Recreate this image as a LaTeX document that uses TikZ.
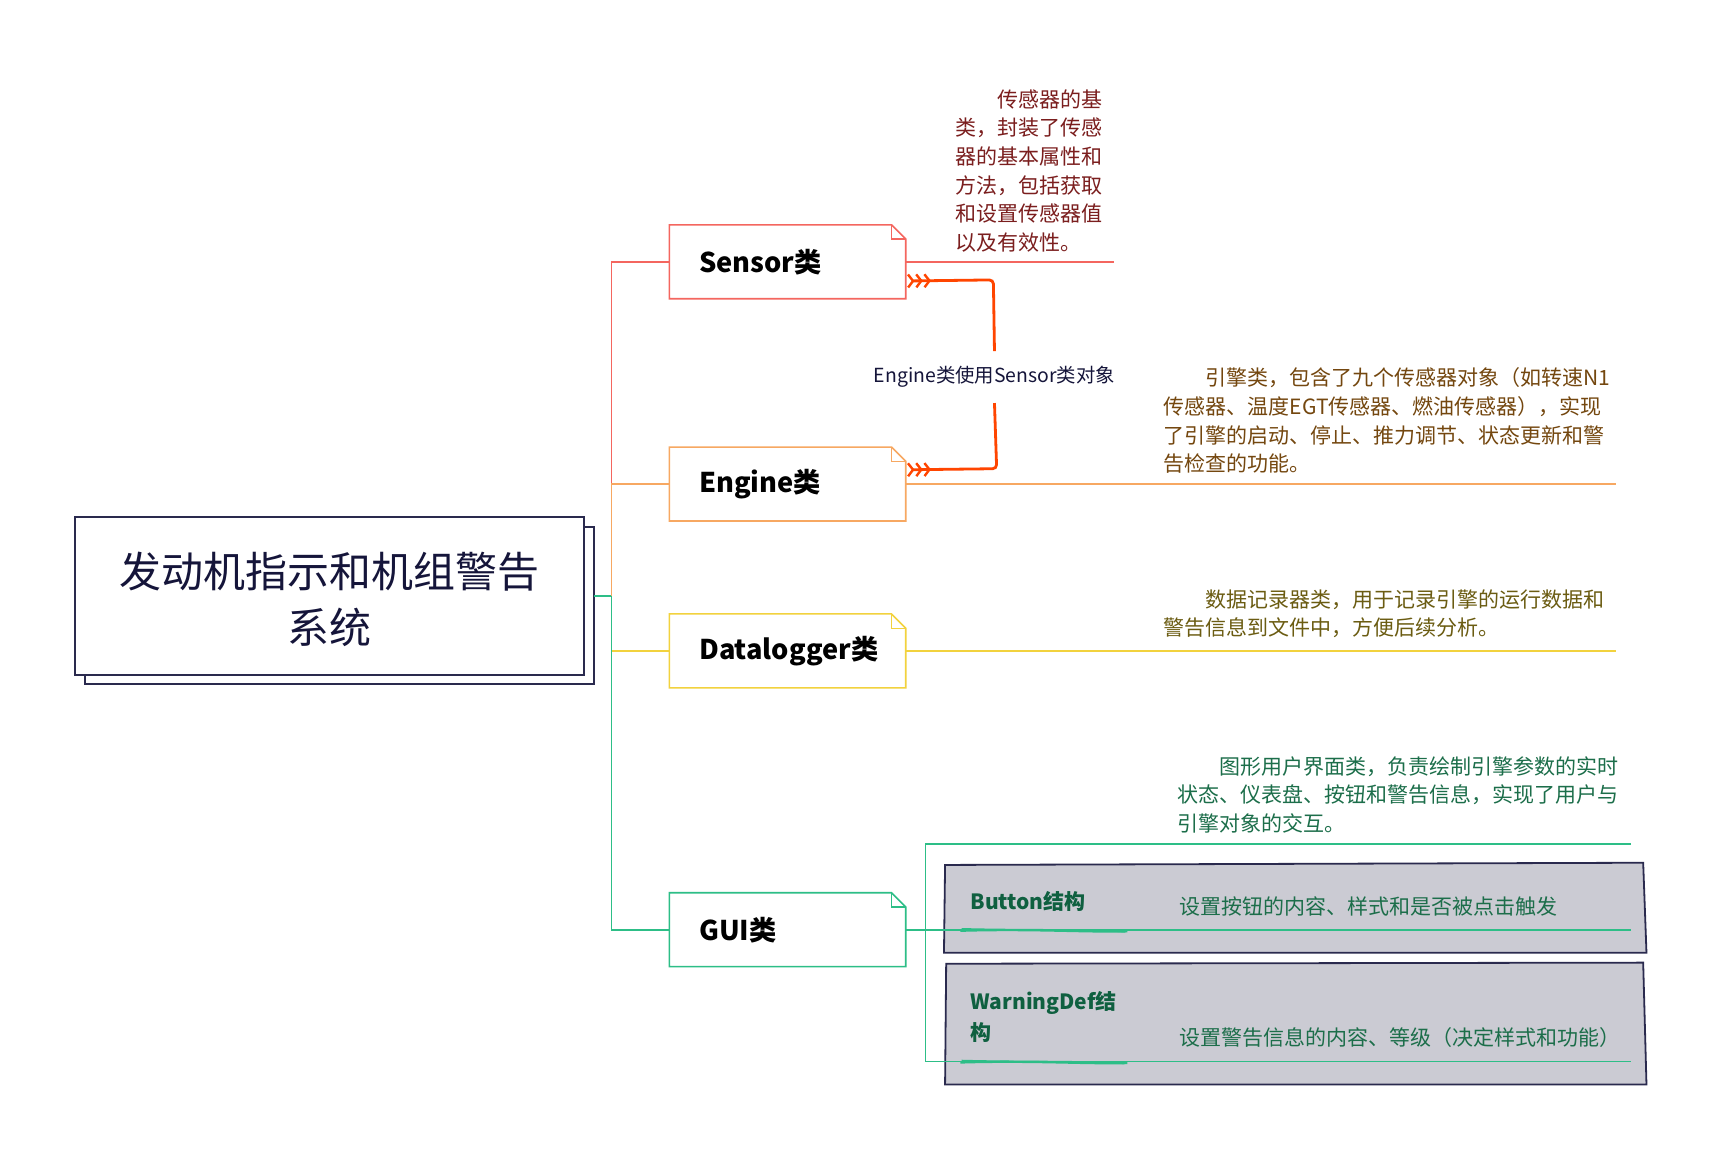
\documentclass[tikz,border=0pt]{standalone}
\usepackage{fontspec}
\setmainfont{Noto Sans CJK SC}
\usetikzlibrary{calc,arrows.meta}
\definecolor{cRed}{HTML}{F4665F}
\definecolor{cOrange}{HTML}{F7A862}
\definecolor{cYellow}{HTML}{F2D23E}
\definecolor{cGreen}{HTML}{2DBE87}
\definecolor{tRed}{HTML}{7B1E1E}
\definecolor{tOrange}{HTML}{74470F}
\definecolor{tYellow}{HTML}{6B5C12}
\definecolor{tGreen}{HTML}{1C6E4A}
\definecolor{tGreenB}{HTML}{0F6040}
\definecolor{navy}{HTML}{2A2A4E}
\definecolor{tNavy}{HTML}{15153A}
\definecolor{grayfill}{HTML}{CBCBD3}
\definecolor{relc}{HTML}{FF4500}
\tikzset{
  branch/.style={line width=1.6pt},
  cbox/.style={rectangle, minimum width={215*1.0977pt}, minimum height={67*1.0977pt}, inner sep=0pt},
  boxlabel/.style={font=\fontsize{27.2}{32}\selectfont\bfseries, text=black, inner sep=0pt, anchor=west},
  desc/.style={font=\fontsize{21}{28.6}\selectfont, inner sep=0pt, anchor=north west, align=left},
  relline/.style={draw=relc, line width=2.8pt, rounded corners=4pt},
  chev/.tip={Straight Barb[reversed,length=5pt,width=13pt,line width=2.4pt,sep=0.5pt]Straight Barb[reversed,length=5pt,width=13pt,line width=2.4pt,sep=0.5pt]Straight Barb[reversed,length=5pt,width=13pt,line width=2.4pt]},
}
\begin{document}
\begin{tikzpicture}[x=1.0977pt,y=-1.0977pt]
\useasboundingbox[fill=white] (0,0) rectangle (1567,1055.8);

% root
\draw[navy, line width=2pt, fill=white] (77,480) rectangle (541,623);
\node[rectangle, draw=navy, line width=2pt, fill=white, minimum width={464*1.0977pt}, minimum height={144*1.0977pt}, align=center, text=tNavy, font=\fontsize{42}{56}\selectfont, inner sep=0pt] (root) at (300,543) {\rule{0pt}{43pt}发动机指示和机组警告\\系统};
\coordinate (rootout) at (541,543);
\coordinate (j) at (557,543);

% class boxes
\node[cbox] (sensor) at (717.5,238.5) {};
\node[cbox] (engine) at (717.5,441) {};
\node[cbox] (datalogger) at (717.5,593) {};
\node[cbox] (gui) at (717.5,847) {};

% branches
\draw[branch, cRed] (j) |- (sensor.west);
\draw[branch, cOrange] (j) |- (engine.west);
\draw[branch, cYellow] (j) |- (datalogger.west);
\draw[branch, cGreen] (j) |- (gui.west);
\draw[branch, cGreen] (rootout) -- (j);

% folded-corner outlines
\foreach \n/\c in {sensor/cRed, engine/cOrange, datalogger/cYellow, gui/cGreen}{
  \draw[\c, line width=1.6pt, line join=miter]
    (\n.south west) -- (\n.north west) -- ($(\n.north east)+(-13,0)$) -- ($(\n.north east)+(0,13)$) -- (\n.south east) -- cycle;
  \draw[\c, line width=1.2pt] ($(\n.north east)+(-13,0)$) -- ($(\n.north east)+(-13,13)$) -- ($(\n.north east)+(0,13)$);
}
\node[boxlabel] (sensorT) at ($(sensor.west)+(27,0)$) {Sensor类};
\node[boxlabel] (engineT) at ($(engine.west)+(27,0)$) {Engine类};
\node[boxlabel] (dataloggerT) at ($(datalogger.west)+(27,0)$) {Datalogger类};
\node[boxlabel] (guiT) at ($(gui.west)+(27,0)$) {GUI类};

% underlines / descriptions
\coordinate (sensorEnd) at (1015,238.5);
\coordinate (engineEnd) at (1472,441);
\coordinate (dataloggerEnd) at (1472,593);
\draw[branch, cRed] (sensor.east) -- (sensorEnd);
\draw[branch, cOrange] (engine.east) -- (engineEnd);
\draw[branch, cYellow] (datalogger.east) -- (dataloggerEnd);

\node[desc, text=tRed] (sensorD) at (870,81.5) {\hspace{2em}传感器的基\\类，封装了传感\\器的基本属性和\\方法，包括获取\\和设置传感器值\\以及有效性。};
\node[desc, text=tOrange] (engineD) at (1060,335) {\hspace{2em}引擎类，包含了九个传感器对象（如转速N1\\传感器、温度EGT传感器、燃油传感器），实现\\了引擎的启动、停止、推力调节、状态更新和警\\告检查的功能。};
\node[desc, text=tYellow] (dataloggerD) at (1060,537) {\hspace{2em}数据记录器类，用于记录引擎的运行数据和\\警告信息到文件中，方便后续分析。};
\node[desc, text=tGreen] (guiD) at (1073,689) {\hspace{2em}图形用户界面类，负责绘制引擎参数的实时\\状态、仪表盘、按钮和警告信息，实现了用户与\\引擎对象的交互。};

% GUI sub structures
\draw[navy, line width=1.8pt, fill=grayfill] (861,788) -- (1497,786) -- (1500,868) -- (860,868) -- cycle;
\draw[navy, line width=1.8pt, fill=grayfill] (862,878) -- (1497,877) -- (1500,988) -- (861,988) -- cycle;
\coordinate (gj) at (843,847);
\coordinate (gtop) at (843,769);
\coordinate (gbot) at (843,967);
\coordinate (gtopEnd) at (1486,769);
\coordinate (gmidEnd) at (1486,847);
\coordinate (gbotEnd) at (1486,967);
\draw[branch, cGreen] (gui.east) -- (gj);
\draw[branch, cGreen] (gtop) -- (gbot);
\draw[branch, cGreen] (gtop) -- (gtopEnd);
\draw[branch, cGreen] (gj) -- (gmidEnd);
\draw[branch, cGreen] (gbot) -- (gbotEnd);
\draw[cGreen, line width=2.2pt] (875,848) .. controls (940,846) and (990,849.5) .. (1027,848.5);
\draw[cGreen, line width=1.2pt] (876,846) .. controls (930,847.5) and (985,846) .. (1025,849);
\draw[cGreen, line width=2.2pt] (875,968) .. controls (940,966) and (990,969.5) .. (1027,968.5);
\draw[cGreen, line width=1.2pt] (876,966) .. controls (930,967.5) and (985,966) .. (1025,969);

\node[font=\fontsize{21}{31.5}\selectfont\bfseries, text=tGreenB, inner sep=0pt, anchor=west] (buttonT) at (884,821) {Button结构};
\node[font=\fontsize{21}{31.5}\selectfont\bfseries, text=tGreenB, inner sep=0pt, anchor=north west, align=left] (warnT) at (884,903) {WarningDef结\\构};
\node[font=\fontsize{21}{28.6}\selectfont, text=tGreen, inner sep=0pt, anchor=west] (buttonD) at (1074,826) {设置按钮的内容、样式和是否被点击触发};
\node[font=\fontsize{21}{28.6}\selectfont, text=tGreen, inner sep=0pt, anchor=west] (warnD) at (1074,945) {设置警告信息的内容、等级（决定样式和功能）};

% relation
\node[font=\fontsize{19.4}{24}\selectfont, text=tNavy, inner xsep=0pt, inner ysep=0pt, minimum height={47*1.0977pt}] (rel) at (906,343.5) {Engine类使用Sensor类对象};
\coordinate (s1) at ($(sensor.east)+(1,17.5)$);
\coordinate (e1) at ($(engine.east)+(1,-13)$);
\draw[relline, chev-] (s1) -- (905,255) -- (rel.north);
\draw[relline, -chev] (rel.south) -- (908,427) -- (e1);
\end{tikzpicture}
\end{document}
